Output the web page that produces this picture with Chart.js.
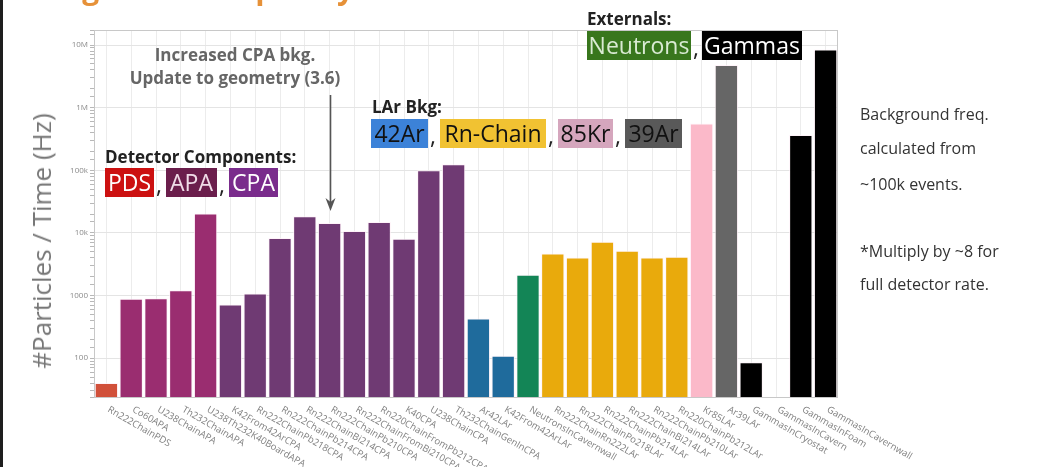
<!DOCTYPE html>
<html>
<head>
<meta charset="utf-8">
<script src="https://cdn.jsdelivr.net/npm/chart.js@4.4.0/dist/chart.umd.min.js"></script>
<style>
    body { margin: 0; background: #fff; font-family: "Open Sans", sans-serif; }
    #wrap { position: relative; width: 1042px; height: 467px; overflow: hidden; }
    #chart { position: absolute; left: 0; top: 0; }
    .ann { position: absolute; white-space: nowrap; }
    .head { font-weight: bold; font-size: 17px; color: #222; }
    .box { position: absolute; font-size: 23px; line-height: 29px; text-align: center; }
    .comma { position: absolute; font-size: 23px; line-height: 29px; color: #222; }
    .note { position: absolute; left: 860px; font-size: 16px; color: #333; }
</style>
</head>
<body>
<div id="wrap">
    <canvas id="chart" width="1042" height="467"></canvas>

    <div style="position:absolute;left:0;top:0;width:3px;height:467px;background:#1e1e1e"></div>
    <div class="ann" style="left:10px;top:-33px;font-size:30px;font-weight:bold;color:#e69138">Background Frequency</div>

    <div class="ann" style="left:41px;top:241px;transform:translate(-50%,-50%) rotate(-90deg);font-size:26px;color:#777">#Particles / Time (Hz)</div>

    <div class="ann" style="left:235px;top:43px;transform:translateX(-50%);font-weight:bold;font-size:17px;color:#666;text-align:center;line-height:23px">Increased CPA bkg.<br>Update to geometry (3.6)</div>

    <div class="ann head" style="left:105px;top:145px">Detector Components:</div>
    <div class="box" style="left:105px;top:168px;width:49px;background:#cc1111;color:#fff">PDS</div>
    <div class="comma" style="left:156px;top:170px">,</div>
    <div class="box" style="left:166px;top:168px;width:51px;background:#6b1e4c;color:#f0dce8">APA</div>
    <div class="comma" style="left:219px;top:170px">,</div>
    <div class="box" style="left:229px;top:168px;width:49px;background:#7a2c8c;color:#fff">CPA</div>

    <div class="ann head" style="left:372px;top:95px">LAr Bkg:</div>
    <div class="box" style="left:371px;top:119px;width:57px;background:#3c82d8;color:#111">42Ar</div>
    <div class="comma" style="left:430px;top:121px">,</div>
    <div class="box" style="left:440px;top:119px;width:106px;background:#f1c232;color:#111">Rn-Chain</div>
    <div class="comma" style="left:548px;top:121px">,</div>
    <div class="box" style="left:558px;top:119px;width:55px;background:#d5a6bd;color:#111">85Kr</div>
    <div class="comma" style="left:615px;top:121px">,</div>
    <div class="box" style="left:625px;top:119px;width:57px;background:#595959;color:#111">39Ar</div>

    <div class="ann head" style="left:587px;top:7px">Externals:</div>
    <div class="box" style="left:587px;top:31px;width:104px;background:#38761d;color:#d9ead3">Neutrons</div>
    <div class="comma" style="left:693px;top:33px">,</div>
    <div class="box" style="left:702px;top:31px;width:100px;background:#000;color:#fff">Gammas</div>

    <div class="note" style="top:103px">Background freq.</div>
    <div class="note" style="top:137px">calculated from</div>
    <div class="note" style="top:173px">~100k events.</div>
    <div class="note" style="top:240px">*Multiply by ~8 for</div>
    <div class="note" style="top:273px">full detector rate.</div>
</div>

<script>
// Categories (x axis)
const categories = [
    'Rn222ChainPDS', 'Co60APA', 'U238ChainAPA', 'Th232ChainAPA', 'U238Th232K40BoardAPA',
    'K42From42ArCPA', 'Rn222ChainPb218CPA', 'Rn222ChainPb214CPA', 'Rn222ChainBi214CPA', 'Rn222ChainPb210CPA',
    'Rn222ChainFromBi210CPA', 'Rn220ChainFromPb212CPA', 'K40CPA', 'U238ChainCPA', 'Th232ChainGenInCPA',
    'Ar42LAr', 'K42From42ArLAr', 'NeutronsInCavernwall', 'Rn222ChainRn222LAr', 'Rn222ChainPo218LAr',
    'Rn222ChainPb214LAr', 'Rn222ChainBi214LAr', 'Rn222ChainPb210LAr', 'Rn220ChainPb212LAr', 'Kr85LAr',
    'Ar39LAr', 'GammasInCryostat', 'GammasInCavern', 'GammasInFoam', 'GammasInCavernwall'
];

// Rate in Hz
const rates = [
    40, 890, 910, 1220, 20400,
    720, 1080, 8300, 18500, 14400,
    10700, 15000, 8050, 100000, 125000,
    430, 109, 2150, 4700, 4050,
    7200, 5200, 4050, 4150, 560000,
    4800000, 86, null, 365000, 8500000
];

// Source group of each bar
const groups = [
    'PDS', 'APA', 'APA', 'APA', 'APA',
    'CPA', 'CPA', 'CPA', 'CPA', 'CPA',
    'CPA', 'CPA', 'CPA', 'CPA', 'CPA',
    'Ar42', 'Ar42', 'Neutrons', 'Rn', 'Rn',
    'Rn', 'Rn', 'Rn', 'Rn', 'Kr85',
    'Ar39', 'Gammas', 'Gammas', 'Gammas', 'Gammas'
];

// Y tick labels at each decade
const tickValues = [100, 1000, 10000, 100000, 1000000, 10000000];
const tickLabels = ['100', '1000', '10k', '100k', '1M', '10M'];

const groupColors = {
    PDS: '#d1503a',
    APA: '#9a2d70',
    CPA: '#6f3a73',
    Ar42: '#1f6b9c',
    Neutrons: '#138556',
    Rn: '#e9aa0c',
    Kr85: '#fbb9c9',
    Ar39: '#666666',
    Gammas: '#000000'
};

function isDecade(v) {
    const l = Math.log10(v);
    return Math.abs(l - Math.round(l)) < 1e-6;
}

// Frame, rotated x labels and the CPA arrow
const extras = {
    id: 'extras',
    afterDraw(chart) {
        const ctx = chart.ctx;
        const area = chart.chartArea;
        const x = chart.scales.x;

        ctx.save();
        ctx.strokeStyle = '#c8c8c8';
        ctx.lineWidth = 1;
        ctx.strokeRect(area.left + 0.5, area.top + 0.5, area.right - area.left - 1, area.bottom - area.top);

        ctx.fillStyle = '#808080';
        ctx.font = '9.5px "Open Sans"';
        ctx.textAlign = 'left';
        ctx.textBaseline = 'middle';
        categories.forEach((name, i) => {
            ctx.save();
            ctx.translate(x.getPixelForValue(i) + 2, area.bottom + 12);
            ctx.rotate(Math.PI / 6);
            ctx.fillText(name, 0, 0);
            ctx.restore();
        });

        // arrow pointing at Rn222ChainPb210CPA
        const ax = Math.round(x.getPixelForValue(9)) + 0.5;
        ctx.strokeStyle = '#555';
        ctx.fillStyle = '#555';
        ctx.lineWidth = 1.6;
        ctx.beginPath();
        ctx.moveTo(ax, 95);
        ctx.lineTo(ax, 206);
        ctx.stroke();
        ctx.beginPath();
        ctx.moveTo(ax - 5, 198);
        ctx.lineTo(ax, 211);
        ctx.lineTo(ax + 5, 198);
        ctx.lineTo(ax, 202);
        ctx.closePath();
        ctx.fill();
        ctx.restore();
    }
};

new Chart(document.getElementById('chart'), {
    type: 'bar',
    data: {
        labels: categories,
        datasets: [{
            data: rates,
            backgroundColor: groups.map(g => groupColors[g]),
            borderColor: 'rgba(255,240,248,0.8)',
            borderWidth: 1,
            borderSkipped: 'bottom',
            barPercentage: 0.94,
            categoryPercentage: 1.0
        }]
    },
    options: {
        responsive: false,
        animation: false,
        devicePixelRatio: 1,
        layout: {
            padding: { left: 0, right: 204, top: 30, bottom: 70 }
        },
        plugins: {
            legend: { display: false },
            tooltip: { enabled: false }
        },
        scales: {
            x: {
                offset: true,
                ticks: { display: false },
                grid: {
                    offset: false,
                    color: '#ececec',
                    drawTicks: false
                },
                border: { display: false },
                afterFit(scale) { scale.height = 0; }
            },
            y: {
                type: 'logarithmic',
                min: 24,
                max: 17400000,
                afterFit(scale) { scale.width = 94; },
                border: { display: false },
                grid: {
                    color: c => (c.tick && isDecade(c.tick.value)) ? '#e4e4e4' : 'rgba(0,0,0,0)',
                    tickColor: '#b8b8b8',
                    tickLength: 4
                },
                ticks: {
                    autoSkip: false,
                    padding: 2,
                    color: '#8a8a8a',
                    font: { family: 'Open Sans', size: 8 },
                    callback(value) {
                        const k = tickValues.findIndex(t => Math.abs(t - value) / t < 1e-6);
                        return k >= 0 ? tickLabels[k] : '';
                    }
                }
            }
        }
    },
    plugins: [extras]
});
</script>
</body>
</html>
